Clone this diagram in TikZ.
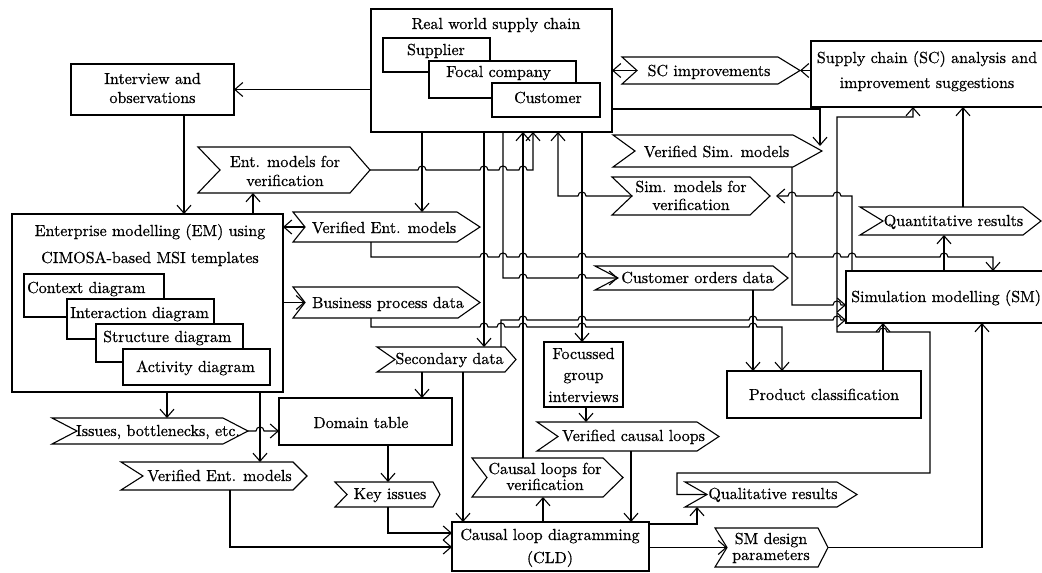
\documentclass[tikz,border=0pt]{standalone}
\usepackage{fontspec}
\usetikzlibrary{arrows.meta,calc}
\newfontfamily\lmten{lmroman10-regular.otf}[FakeBold=0.6]
\newcommand\lmfont{\lmten\fontsize{16}{19}\selectfont}
\newcommand\hopr[2]{-- ({#1-4},#2) .. controls ({#1-4},{#2-5.3}) and ({#1+4},{#2-5.3}) .. ({#1+4},#2)}
\newcommand\hopl[2]{-- ({#1+4},#2) .. controls ({#1+4},{#2-5.3}) and ({#1-4},{#2-5.3}) .. ({#1-4},#2)}
\newcommand\rbox[5]{\node[box, minimum width={#4-#2}, minimum height={#5-#3}] (#1) at ({(#2+#4)/2},{(#3+#5)/2}) {};}
\newcommand\chev[7]{%
  \draw[cline, fill=white] (#2,#3) -- ({#4-#7},#3) -- (#4,{(#3+#5)/2}) -- ({#4-#7},#5) -- (#2,#5) -- ({#2+#6},{(#3+#5)/2}) -- cycle;
  \node[chevbox, minimum width={#4-#2}, minimum height={#5-#3}] (#1) at ({(#2+#4)/2},{(#3+#5)/2}) {};
  \coordinate (#1-n) at ({#2+#6},{(#3+#5)/2});
}
\newcommand\txt[4]{\node[lbl, anchor=base] (#1) at (#2,#3) {#4};}
\newcommand\txtw[4]{\node[lbl, anchor=base west] (#1) at (#2,#3) {#4};}
\begin{document}
\begin{tikzpicture}[x=1pt,y=-1pt,
  cline/.style={line width=1.1pt},
  box/.style={draw, line width=1.1pt, fill=white, inner sep=0pt, outer sep=0pt},
  chevbox/.style={inner sep=0pt, outer sep=0pt},
  lbl/.style={inner sep=0pt, font=\lmfont},
  ar/.style={cline, -{Straight Barb[length=8pt,width=14pt]}}]
\useasboundingbox (0,0) rectangle (1042,573);
\clip (0,0) rectangle (1042,573);
\fill[white] (0,0) rectangle (1042,573);

% ---------- boxes ----------
\rbox{rw}{371}{9}{612}{132}
\txt{rwt}{496}{29}{Real world supply chain}
\rbox{supplier}{383}{38}{490}{72}
\txt{suppliert}{436}{55}{Supplier}
\rbox{focal}{429}{61}{576}{98}
\txt{focalt}{498.5}{77}{Focal company}
\rbox{customer}{492}{83}{600}{117}
\txt{customert}{548}{103}{Customer}

\rbox{interview}{71}{64}{234}{115}
\txt{interviewt1}{152.5}{84}{Interview and}
\txt{interviewt2}{152.5}{103}{observations}

\rbox{em}{12}{214}{283}{392}
\txt{emt1}{150}{236}{Enterprise modelling (EM) using}
\txt{emt2}{150}{263}{CIMOSA-based MSI templates}
\rbox{context}{24}{274}{164}{317}
\txtw{contextt}{27}{293}{Context diagram}
\rbox{interaction}{67}{299}{214}{339}
\txtw{interactiont}{70}{318}{Interaction diagram}
\rbox{structure}{96}{324}{243}{362}
\txtw{structuret}{103}{342}{Structure diagram}
\rbox{activity}{123}{349}{270}{385}
\txtw{activityt}{136}{372}{Activity diagram}

\rbox{sc}{811}{41}{1047}{107}
\txt{sct1}{927}{63}{Supply chain (SC) analysis and}
\txt{sct2}{927}{88}{improvement suggestions}
\rbox{sm}{846}{271}{1048}{323}
\txtw{smt}{851}{302}{Simulation modelling (SM)}
\rbox{pc}{727}{371}{921}{418}
\txt{pct}{824}{400}{Product classification}
\rbox{domain}{279}{398}{452}{445}
\txt{domaint}{361}{428}{Domain table}
\rbox{focus}{544}{342}{623}{407}
\txt{focust1}{583.5}{359}{Focussed}
\txt{focust2}{583.5}{380}{group}
\txt{focust3}{583.5}{402}{interviews}
\rbox{cld}{452}{522}{649}{571}
\txt{cldt1}{550}{540}{Causal loop diagramming}
\txt{cldt2}{550}{563}{(CLD)}

% ---------- chevrons ----------
\chev{entver}{198}{147}{370}{193}{22}{20}
\txt{entvert1}{285}{167}{Ent. models for}
\txt{entvert2}{285}{186}{verification}
\chev{verent1}{293}{212}{480}{242}{12}{23}
\txt{verent1t}{384}{233}{Verified Ent. models}
\chev{busproc}{293}{287}{480}{318}{12}{22}
\txt{busproct}{388}{308}{Business process data}
\chev{scimp}{622}{57}{800}{84}{15}{22}
\txt{scimpt}{709}{76}{SC improvements}
\chev{versim}{613}{135}{822}{167}{22}{29}
\txt{versimt}{716.5}{157}{Verified Sim. models}
\chev{simver}{612}{177}{770}{215}{20}{20}
\txt{simvert1}{691}{192}{Sim. models for}
\txt{simvert2}{691}{210}{verification}
\chev{custord}{595}{266}{788}{290}{23}{15}
\txt{custordt}{697.5}{283}{Customer orders data}
\chev{secdata}{377}{347}{516}{372}{18}{11}
\txt{secdatat}{449.5}{364}{Secondary data}
\chev{issues}{52}{418}{248}{444}{25}{25}
\txt{issuest}{158}{436}{Issues, bottlenecks, etc.}
\chev{verent2}{121}{462}{307}{490}{22}{14}
\txt{verent2t}{219.5}{481}{Verified Ent. models}
\chev{keyiss}{335}{482}{440}{507}{12}{7}
\txt{keyisst}{390}{499}{Key issues}
\chev{verloops}{537}{422}{719}{451}{21}{22}
\txt{verloopst}{633.5}{441}{Verified causal loops}
\chev{cloops}{472}{458}{623}{497}{15}{20}
\txt{cloopst1}{545}{474}{Causal loops for}
\txt{cloopst2}{545}{490}{verification}
\chev{qualres}{685}{482}{857}{507}{22}{20}
\txt{qualrest}{773}{499}{Qualitative results}
\chev{smdes}{715}{528}{828}{567}{12}{10}
\txt{smdest1}{771}{544}{SM design}
\txt{smdest2}{771}{560}{parameters}
\chev{quant}{860}{207}{1041}{235}{23}{18}
\txt{quantt}{953.5}{226}{Quantitative results}

% ---------- connectors ----------
\draw[ar] (rw.west |- interview.east) -- (interview.east);
\draw[ar] (184,0 |- interview.south) -- (184,0 |- em.north);
\draw[ar] (253,0 |- em.north) -- (253,0 |- entver.south);
\draw[ar] (entver.east) \hopr{422}{170} \hopr{484}{170} \hopr{503}{170} \hopr{523}{170} -- (533,170) -- (533,0 |- rw.south);
\draw[ar] (422,0 |- rw.south) -- (422,0 |- verent1.north);
\draw[ar] (verent1-n) -- (em.east |- verent1-n);
\draw[ar] (em.east |- busproc-n) -- (busproc-n);
\draw[ar] (371,0 |- verent1.south) -- (371,257) \hopr{484}{257} \hopr{503}{257} \hopr{523}{257} \hopr{582}{257} \hopr{792}{257} \hopr{837}{257} \hopr{852}{257} \hopr{944}{257} -- (993,257) -- (993,0 |- sm.north);
\draw[ar] (371,0 |- busproc.south) -- (371,327) \hopr{484}{327} \hopr{501}{327} \hopr{523}{327} \hopr{582}{327} \hopr{753}{327} -- (782,327) -- (782,0 |- pc.north);
\draw[ar] (484,0 |- rw.south) -- (484,0 |- secdata.north);
\draw[ar] (503,0 |- rw.south) -- (503,278) \hopr{523}{278} \hopr{582}{278} -- (custord-n);
\draw[ar] (523,0 |- cloops.north) -- (523,0 |- rw.south);
\draw[ar] (simver-n) \hopl{582}{196} -- (558,196) -- (558,0 |- rw.south);
\draw[ar] (582,0 |- rw.south) -- (582,0 |- focus.north);
\draw[ar] (scimp-n) -- (rw.east |- scimp-n);
\draw[ar] (sc.west |- scimp.east) -- (scimp.east);
\draw[ar] (rw.east |- 0,109) -- (820,109) -- ($(versim.east)+(-2,-5)$);
\draw[ar] (792,0 |- versim.south) -- (792,305) \hopr{837}{305} -- (sm.west |- 0,305);
\draw[ar] (852,0 |- sm.north) -- (852,196) \hopl{837}{196} \hopl{792}{196} -- ($(simver.east)+(6,0)$);
\draw[ar] (501,0 |- secdata.north) -- (501,320) \hopr{523}{320} \hopr{582}{320} \hopr{753}{320} \hopr{837}{320} -- (sm.west |- 0,320);
\draw[ar] (753,0 |- custord.south) -- (753,0 |- pc.north);
\draw[ar] (883,0 |- pc.north) -- (883,0 |- sm.south);
\draw[ar] (qualres-n) -- (677,0 |- qualres-n) -- (677,473) -- (930,473) -- (930,332) \hopl{883}{332} -- (837,332) -- (837,117) -- (913,117) -- (913,0 |- sc.south);
\draw[ar] (963,0 |- quant.north) -- (963,0 |- sc.south);
\draw[ar] (944,0 |- sm.north) -- (944,0 |- quant.south);
\draw[ar] (smdes.east) -- (982,0 |- smdes.east) -- (982,0 |- sm.south);
\draw[ar] (cld.east |- smdes-n) -- (smdes-n);
\draw[ar] (cld.east |- 0,524) -- (697,524) -- (697,0 |- qualres.south);
\draw[ar] (543,0 |- cld.north) -- (543,0 |- cloops.south);
\draw[ar] (631,0 |- verloops.south) -- (631,0 |- cld.north);
\draw[ar] (586,0 |- focus.south) -- (586,0 |- verloops.north);
\draw[ar] (463,0 |- secdata.south) -- (463,0 |- cld.north);
\draw[ar] (422,0 |- secdata.south) -- (422,0 |- domain.north);
\draw[ar] (388,0 |- domain.south) -- (388,0 |- keyiss.north);
\draw[ar] (388,0 |- keyiss.south) -- (388,533) -- (cld.west |- 0,533);
\draw[ar] (230,0 |- verent2.south) -- (230,547) -- (cld.west |- 0,547);
\draw[ar] (167,0 |- em.south) -- (167,0 |- issues.north);
\draw[ar] (260,0 |- em.south) -- (260,0 |- verent2.north);
\draw[ar] (issues.east) \hopr{260}{431} -- (domain.west |- issues.east);
\end{tikzpicture}
\end{document}
